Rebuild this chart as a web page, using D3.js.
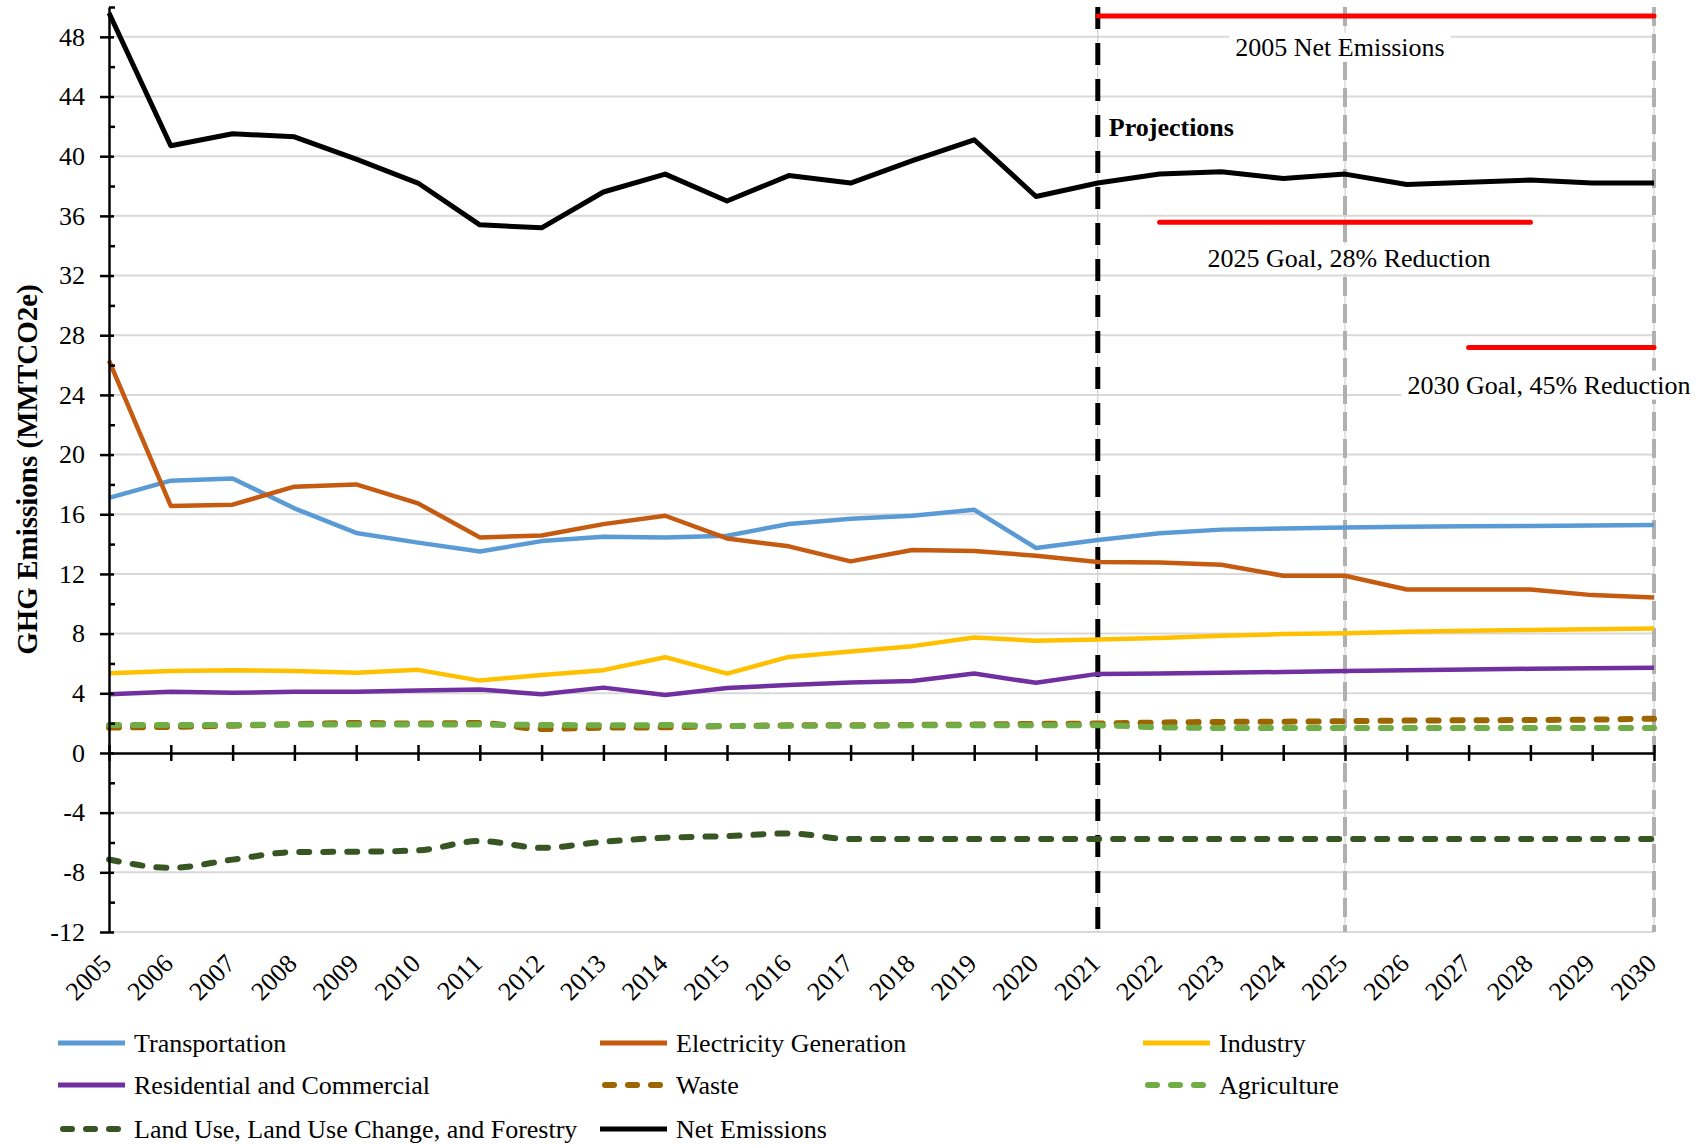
<!DOCTYPE html>
<html>
<head>
<meta charset="utf-8">
<script src="https://d3js.org/d3.v7.min.js"></script>
<style>
  body { margin: 0; background: #fff; }
  svg text { font-family: "Liberation Serif", "Times New Roman", serif; }
</style>
</head>
<body>
<div id="chart"></div>
<script>
// years on the x axis
const years = [2005, 2006, 2007, 2008, 2009, 2010, 2011, 2012, 2013, 2014, 2015, 2016, 2017,
  2018, 2019, 2020, 2021, 2022, 2023, 2024, 2025, 2026, 2027, 2028, 2029, 2030];
const yTicks = [-12, -8, -4, 0, 4, 8, 12, 16, 20, 24, 28, 32, 36, 40, 44, 48];
const yMinor = [-10, -6, -2, 2, 6, 10, 14, 18, 22, 26, 30, 34, 38, 42, 46, 50];

// emissions by sector, MMTCO2e
const transportation = [17.1, 18.25, 18.4, 16.4, 14.75, 14.1, 13.5, 14.2, 14.5, 14.45, 14.56, 15.35, 15.7,
  15.9, 16.3, 13.74, 14.27, 14.72, 14.97, 15.05, 15.12, 15.17, 15.2, 15.22, 15.25, 15.28];
const electricity = [26.3, 16.56, 16.64, 17.85, 18.0, 16.73, 14.45, 14.58, 15.34, 15.9, 14.38, 13.85, 12.84,
  13.6, 13.54, 13.22, 12.8, 12.77, 12.62, 11.88, 11.88, 10.96, 10.96, 10.96, 10.58, 10.42];
const industry = [5.35, 5.5, 5.55, 5.5, 5.37, 5.57, 4.85, 5.23, 5.55, 6.42, 5.32, 6.44, 6.8,
  7.16, 7.74, 7.52, 7.6, 7.7, 7.85, 7.97, 8.03, 8.12, 8.19, 8.24, 8.3, 8.34];
const residential = [3.94, 4.11, 4.03, 4.11, 4.11, 4.18, 4.25, 3.94, 4.38, 3.89, 4.36, 4.56, 4.72,
  4.83, 5.32, 4.7, 5.3, 5.32, 5.37, 5.43, 5.5, 5.55, 5.6, 5.64, 5.68, 5.72];
const waste = [1.7, 1.75, 1.83, 1.93, 2.01, 1.97, 2.01, 1.61, 1.7, 1.72, 1.8, 1.85, 1.85,
  1.88, 1.9, 1.95, 1.97, 2.04, 2.08, 2.1, 2.13, 2.17, 2.19, 2.21, 2.24, 2.3];
const agriculture = [1.88, 1.88, 1.88, 1.9, 1.9, 1.9, 1.9, 1.88, 1.85, 1.87, 1.8, 1.82, 1.82,
  1.85, 1.85, 1.85, 1.85, 1.72, 1.68, 1.68, 1.68, 1.67, 1.67, 1.67, 1.67, 1.67];
const landUse = [-7.14, -7.7, -7.15, -6.64, -6.62, -6.53, -5.9, -6.36, -5.95, -5.68, -5.57, -5.39, -5.77,
  -5.77, -5.77, -5.77, -5.77, -5.77, -5.77, -5.77, -5.77, -5.77, -5.77, -5.77, -5.77, -5.77];
const netEmissions = [49.6, 40.7, 41.5, 41.3, 39.8, 38.2, 35.4, 35.2, 37.6, 38.8, 37.0, 38.7, 38.2,
  39.7, 41.1, 37.3, 38.2, 38.8, 38.95, 38.5, 38.8, 38.1, 38.25, 38.4, 38.2, 38.2];

// reduction targets (red bars)
const goalNames = ["2005 Net Emissions", "2025 Goal, 28% Reduction", "2030 Goal, 45% Reduction"];
const goalValues = [49.4, 35.57, 27.17];
const goalStart = [2021, 2022, 2027];
const goalEnd = [2030, 2028, 2030];
const markerYears = [2021, 2025, 2030];

const series = [
  { name: "Transportation", values: transportation, color: "#5b9bd5", dashed: false },
  { name: "Electricity Generation", values: electricity, color: "#c55a11", dashed: false },
  { name: "Industry", values: industry, color: "#ffc000", dashed: false },
  { name: "Residential and Commercial", values: residential, color: "#7030a0", dashed: false },
  { name: "Waste", values: waste, color: "#9c6500", dashed: true },
  { name: "Agriculture", values: agriculture, color: "#70ad47", dashed: true },
  { name: "Land Use, Land Use Change, and Forestry", values: landUse, color: "#375623", dashed: true },
  { name: "Net Emissions", values: netEmissions, color: "#000000", dashed: false }
];

const width = 1707, height = 1145;
const plotLeft = 109, plotRight = 1654, plotTop = 7, plotBottom = 932;

const svg = d3.select("#chart").append("svg")
  .attr("width", width)
  .attr("height", height);

const x = d3.scaleLinear().domain([2005, 2030]).range([plotLeft, plotRight]);
const y = d3.scaleLinear().domain([-12, 50]).range([plotBottom, plotTop]);

// gridlines
svg.append("g")
  .selectAll("line")
  .data(yTicks.filter(d => d !== 0))
  .join("line")
  .attr("x1", plotLeft).attr("x2", plotRight)
  .attr("y1", d => y(d)).attr("y2", d => y(d))
  .attr("stroke", "#d9d9d9")
  .attr("stroke-width", 2);

// vertical markers: thin line + dashes
const markers = svg.append("g");
markerYears.forEach((yr, i) => {
  markers.append("line")
    .attr("x1", x(yr)).attr("x2", x(yr))
    .attr("y1", plotTop).attr("y2", plotBottom)
    .attr("stroke", "#c8c8c8").attr("stroke-width", 1);
});

// sector lines
const line = d3.line().x((d, i) => x(years[i])).y(d => y(d));
const smooth = d3.line().x((d, i) => x(years[i])).y(d => y(d)).curve(d3.curveMonotoneX);

svg.append("g")
  .selectAll("path")
  .data(series)
  .join("path")
  .attr("d", s => (s.dashed ? smooth : line)(s.values))
  .attr("fill", "none")
  .attr("stroke", s => s.color)
  .attr("stroke-width", s => s.dashed ? 6 : (s.name === "Net Emissions" ? 5 : 4.5))
  .attr("stroke-dasharray", s => s.dashed ? "10,14" : null)
  .attr("stroke-linecap", s => s.dashed ? "round" : "butt")
  .attr("stroke-linejoin", "round");

// dashed verticals on top
markerYears.forEach((yr, i) => {
  markers.append("line")
    .attr("x1", x(yr)).attr("x2", x(yr))
    .attr("y1", plotTop).attr("y2", plotBottom)
    .attr("stroke", i === 0 ? "#000" : "#b0b0b0")
    .attr("stroke-width", i === 0 ? 5 : 4)
    .attr("stroke-dasharray", i === 0 ? "22,14" : "19,8");
});

// axes
const yAxis = svg.append("g")
  .attr("transform", `translate(${plotLeft},0)`)
  .call(d3.axisLeft(y).tickValues(yTicks).tickSize(9).tickSizeOuter(0).tickPadding(15)
    .tickFormat(d => String(d)));
yAxis.selectAll(".tick line").attr("x1", 5).attr("stroke-width", 2.5);
yAxis.select(".domain").attr("stroke-width", 2.5);
yAxis.selectAll("text").style("font-size", "26px").attr("fill", "#000");

svg.append("g")
  .attr("transform", `translate(${plotLeft},0)`)
  .call(d3.axisRight(y).tickValues(yMinor).tickSize(6).tickFormat(""))
  .call(g => g.select(".domain").remove())
  .selectAll("line").attr("stroke-width", 2.5);

const xAxis = svg.append("g")
  .attr("transform", `translate(0,${y(0)})`)
  .call(d3.axisBottom(x).tickValues(years).tickSize(8).tickSizeOuter(0).tickFormat(""));
xAxis.selectAll(".tick line").attr("y1", -8).attr("stroke-width", 2.5);
xAxis.select(".domain").attr("stroke-width", 2.5);

// year labels below the plot
svg.append("g")
  .selectAll("text")
  .data(years)
  .join("text")
  .attr("transform", d => `translate(${x(d) + 4},${plotBottom + 33}) rotate(-45)`)
  .attr("text-anchor", "end")
  .style("font-size", "26px")
  .text(d => d);

// axis title
svg.append("text")
  .attr("transform", `translate(27,${(283 + 656) / 2}) rotate(-90)`)
  .attr("text-anchor", "middle")
  .attr("dy", "0.35em")
  .style("font-size", "29px")
  .style("font-weight", "bold")
  .text("GHG Emissions (MMTCO2e)");

// red goal bars
svg.append("g")
  .selectAll("line")
  .data(goalValues)
  .join("line")
  .attr("x1", (d, i) => x(goalStart[i]))
  .attr("x2", (d, i) => x(goalEnd[i]))
  .attr("y1", d => y(d)).attr("y2", d => y(d))
  .attr("stroke", "#ff0000")
  .attr("stroke-width", 5)
  .attr("stroke-linecap", "round");

// goal labels with white boxes
const labelX = [x(2025) - 5, x(2025) + 4, x(2030) - 105];
const labelDy = [40, 45, 46];
goalNames.forEach((name, i) => {
  const g = svg.append("g");
  const t = g.append("text")
    .attr("x", labelX[i])
    .attr("y", y(goalValues[i]) + labelDy[i])
    .attr("text-anchor", "middle")
    .style("font-size", "26px")
    .text(name);
  const b = t.node().getBBox();
  g.insert("rect", "text")
    .attr("x", b.x - 6).attr("y", b.y)
    .attr("width", b.width + 12).attr("height", b.height)
    .attr("fill", "#fff");
});

svg.append("text")
  .attr("x", x(2021) + 11)
  .attr("y", 136)
  .style("font-size", "26px")
  .style("font-weight", "bold")
  .text("Projections");

// legend
const legendCols = [58, 600, 1143];
const legendRows = [1043, 1085, 1129];
const legend = svg.append("g")
  .selectAll("g")
  .data(series)
  .join("g")
  .attr("transform", (s, i) => `translate(${legendCols[i % 3]},${legendRows[Math.floor(i / 3)]})`);

legend.append("line")
  .attr("x1", s => s.dashed ? 5 : 0).attr("x2", 67)
  .attr("stroke", s => s.color)
  .attr("stroke-width", s => s.dashed ? 6 : 5)
  .attr("stroke-dasharray", s => s.dashed ? "9,14" : null)
  .attr("stroke-linecap", s => s.dashed ? "round" : "butt");

legend.append("text")
  .attr("x", 76)
  .attr("dy", "0.35em")
  .style("font-size", "26px")
  .text(s => s.name);
</script>
</body>
</html>
